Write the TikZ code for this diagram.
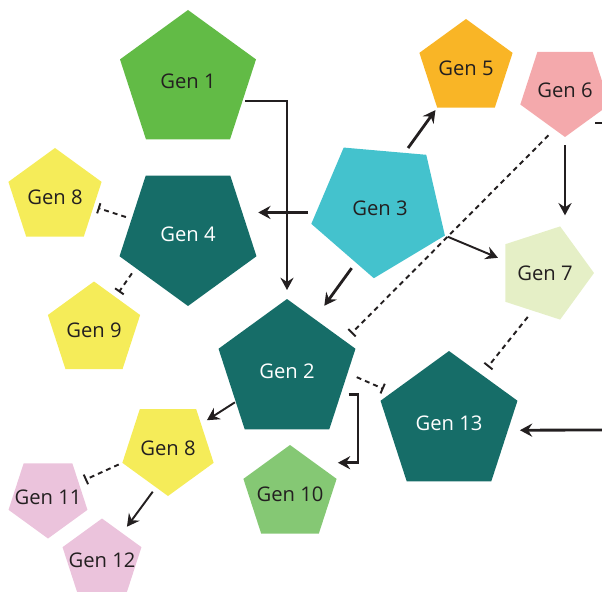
\documentclass[tikz,border=0pt]{standalone}
\usepackage{fontspec}
\setmainfont{Open Sans}
\usetikzlibrary{shapes.geometric,arrows.meta}

\definecolor{genline}{HTML}{231F20}
\definecolor{gengreen}{HTML}{62BB46}
\definecolor{genteal}{HTML}{166D68}
\definecolor{genyellow}{HTML}{F5EC59}
\definecolor{gencyan}{HTML}{44C2CD}
\definecolor{genorange}{HTML}{F9B526}
\definecolor{genpink}{HTML}{F4A9AC}
\definecolor{genpale}{HTML}{E5EFC6}
\definecolor{genleaf}{HTML}{85C874}
\definecolor{genlilac}{HTML}{EBC3DC}

% label that does not widen the pentagon
\newcommand{\gname}[1]{\makebox[0pt]{#1}}

\begin{document}
\begin{tikzpicture}[
        gen/.style={regular polygon, regular polygon sides=5, inner sep=0pt, outer sep=0pt,
            font=\fontsize{11.5}{13}\selectfont, text=genline},
        dark/.style={gen, fill=genteal, text=white},
        act/.style={-{Stealth[length=7pt,width=7.5pt,inset=2.4pt]}, line width=1.1pt, draw=genline},
        strong/.style={act, line width=1.6pt},
        inh/.style={-{Bar[width=6pt]}, line width=1.1pt, dash pattern=on 2.8pt off 2.3pt, draw=genline}
    ]
        \useasboundingbox (0,0) rectangle (12.04,-11.84);
        \clip (0,0) rectangle (12.04,-11.84);

        % Genes
        \node[gen, fill=gengreen, minimum size=2.86cm] (g1) at (3.76,-1.63) {\gname{Gen 1}};
        \node[dark, minimum size=2.88cm, shape border rotate=180] (g4) at (3.76,-4.68) {\gname{Gen 4}};
        \node[gen, fill=genyellow, minimum size=1.96cm] (g8a) at (1.10,-3.94) {\gname{Gen 8}};
        \node[gen, fill=genyellow, minimum size=1.94cm] (g9) at (1.88,-6.60) {\gname{Gen 9}};
        \node[gen, fill=gencyan, minimum size=2.82cm, shape border rotate=175] (g3) at (7.60,-4.16) {\gname{Gen 3}};
        \node[gen, fill=genorange, minimum size=1.96cm] (g5) at (9.32,-1.36) {\gname{Gen 5}};
        \node[gen, fill=genpink, minimum size=1.88cm, shape border rotate=180] (g6) at (11.30,-1.80) {\gname{Gen 6}};
        \node[gen, fill=genpale, minimum size=1.96cm, shape border rotate=-90] (g7) at (10.90,-5.46) {\gname{Gen 7}};
        \node[dark, minimum size=2.88cm] (g2) at (5.74,-7.42) {\gname{Gen 2}};
        \node[dark, minimum size=2.88cm] (g13) at (8.98,-8.46) {\gname{Gen 13}};
        \node[gen, fill=genleaf, minimum size=1.96cm] (g10) at (5.80,-9.88) {\gname{Gen 10}};
        \node[gen, fill=genyellow, minimum size=1.92cm, shape border rotate=180] (g8b) at (3.36,-8.96) {\gname{Gen 8}};
        \node[gen, fill=genlilac, minimum size=1.66cm, shape border rotate=180] (g11) at (0.96,-9.94) {\gname{Gen 11}};
        \node[gen, fill=genlilac, minimum size=1.66cm] (g12) at (2.04,-11.20) {\gname{Gen 12}};

        % Inputs from outside the frame
        \coordinate (rin) at (12.04,-8.60);
        \coordinate (rout) at (12.04,-2.46);

        % Activations
        \draw[act, shorten <=0.06cm, shorten >=0.18cm] (g1.-20) -| (g2.90);
        \draw[strong, shorten <=0.16cm, shorten >=0.18cm] (g3.184) -- (g3.184 -| g4.0);
        \draw[strong, shorten <=0.12cm, shorten >=0.06cm] (g3.66) -- (g5.234);
        \draw[act, shorten <=0.06cm, shorten >=0.16cm] (g3.337) -- (g7.163);
        \draw[strong, shorten <=0.14cm, shorten >=0.33cm] (g3.246) -- (g2.62);
        \draw[strong, shorten <=0.16cm, shorten >=0.32cm] (g6.270) -- (g6.270 |- g7.90);
        \draw[act, shorten <=0.02cm, shorten >=0.14cm] (g2.211) -- (g8b.36);
        \draw[strong, shorten <=0.16cm, shorten >=0.47cm] (g2.-24) -- ++(0.35,0) |- (g10.52);
        \draw[act, shorten <=0.11cm, shorten >=0.16cm] (g8b.253) -- (g12.53);
        \draw[strong, shorten >=0.24cm] (rin) -- (g13.-7);

        % Inhibitions
        \draw[inh, shorten <=0.17cm, shorten >=0.20cm] (g6.255) -- (g2.28);
        \draw[inh, shorten <=0.12cm, shorten >=0.09cm] (g4.165) -- (g8a.-14);
        \draw[inh, shorten <=0.13cm, shorten >=0.12cm] (g4.213) -- (g9.57);
        \draw[inh, shorten <=0.20cm, shorten >=0.18cm] (g2.-2) -- (g13.152);
        \draw[inh, shorten <=0.16cm, shorten >=0.20cm] (g7.252) -- (g13.56);
        \draw[inh, shorten <=0.08cm, shorten >=0.14cm] (g8b.198) -- (g11.25);
        \draw[line width=1.4pt, genline] (rout) -- ++(-0.14,0);
\end{tikzpicture}
\end{document}
